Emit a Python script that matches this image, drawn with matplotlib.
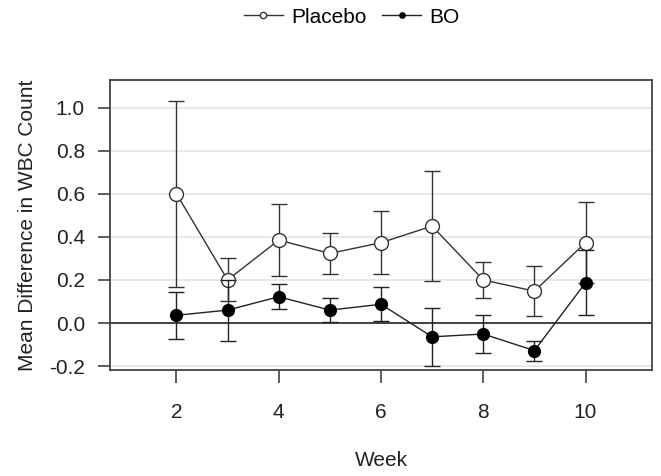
import matplotlib
matplotlib.use("Agg")
import matplotlib.pyplot as plt

plt.rcParams['font.family'] = ['Liberation Sans', 'DejaVu Sans']

weeks = [2, 3, 4, 5, 6, 7, 8, 9, 10]
placebo_mean = [0.60, 0.20, 0.385, 0.323, 0.373, 0.450, 0.200, 0.148, 0.373]
placebo_err = [0.432, 0.100, 0.167, 0.095, 0.147, 0.255, 0.083, 0.115, 0.188]
bo_mean = [0.036, 0.060, 0.122, 0.060, 0.087, -0.064, -0.051, -0.128, 0.187]
bo_err = [0.109, 0.142, 0.058, 0.057, 0.079, 0.136, 0.087, 0.046, 0.151]

fig = plt.figure(figsize=(6.61, 4.76), dpi=100)
ax = fig.add_axes([110 / 661, 1 - 370 / 476, 542 / 661, 290 / 476])

# grid lines
for yv in [-0.2, 0.2, 0.4, 0.6, 0.8, 1.0]:
    ax.axhline(yv, color='#e4e4e4', lw=1.2, zorder=0)
ax.axhline(0, color='#222222', lw=1.2, zorder=1)

ax.errorbar(weeks, placebo_mean, yerr=placebo_err, color='#333333', lw=1.0,
            marker='o', ms=10, mfc='white', mec='#333333', mew=1.0,
            capsize=6, elinewidth=1.0, capthick=1.0, label='Placebo', zorder=3)
ax.errorbar(weeks, bo_mean, yerr=bo_err, color='#222222', lw=1.0,
            marker='o', ms=8.5, mfc='black', mec='black',
            capsize=6, elinewidth=1.0, capthick=1.0, label='BO', zorder=4)

ax.set_xlim(0.7, 11.3)
ax.set_ylim(-0.218, 1.128)
ax.set_xticks([2, 4, 6, 8, 10])
ax.set_yticks([-0.2, 0.0, 0.2, 0.4, 0.6, 0.8, 1.0])
ax.set_yticklabels(['-0.2', '0.0', '0.2', '0.4', '0.6', '0.8', '1.0'])
ax.tick_params(axis='both', labelsize=15, length=9, width=1.1, color='#333333',
               labelcolor='#222222')
ax.tick_params(axis='x', pad=15)
ax.tick_params(axis='y', pad=9)
for s in ax.spines.values():
    s.set_color('#444444')
    s.set_linewidth(1.3)

ax.set_xlabel('Week', fontsize=15, color='#222222', labelpad=21)
ax.set_ylabel('Mean Difference in WBC Count', fontsize=15, color='#222222', labelpad=9)

handles, labels = ax.get_legend_handles_labels()
leg = fig.legend([h[0] for h in handles], labels, loc='center',
                 bbox_to_anchor=(0.532, 0.964), ncol=2, frameon=False, fontsize=15,
                 markerscale=0.45, handlelength=1.87, columnspacing=0.75,
                 handletextpad=0.4, borderpad=0)

fig.savefig('out.png', dpi=100)
